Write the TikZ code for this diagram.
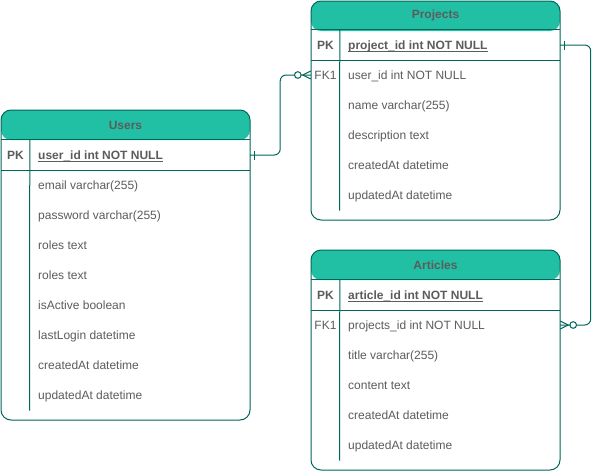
\documentclass[tikz,border=0pt]{standalone}
\usepackage{fontspec}
\setmainfont{Liberation Sans}
\usetikzlibrary{calc}
\definecolor{erstroke}{HTML}{006658}
\definecolor{erfill}{HTML}{21C0A5}
\definecolor{ertext}{HTML}{5C5C5C}
\begin{document}
\begin{tikzpicture}[x=1pt,y=-1pt,
  erline/.style={draw=erstroke, line width=1pt},
  tablebox/.style={draw=erstroke, line width=1pt, rounded corners=10pt, fill=white,
    minimum width=249pt, inner sep=0pt,
    path picture={\fill[erfill] (path picture bounding box.north west) rectangle ([yshift=-30pt]path picture bounding box.north east);}},
  title/.style={inner sep=0pt, font=\bfseries\fontsize{12}{14}\selectfont, text=ertext},
  field/.style={anchor=west, inner sep=0pt, font=\fontsize{12}{14}\selectfont, text=ertext, text height=8.6pt, text depth=0pt},
  keyf/.style={field, font=\bfseries\fontsize{12}{14}\selectfont},
  keylabel/.style={keyf, anchor=center},
  fklabel/.style={field, anchor=center},
  rowbox/.style={minimum width=249pt, minimum height=30pt, inner sep=0pt},
  uline/.style={draw=ertext, line width=0.9pt},
  circ/.style={draw=erstroke, line width=1pt, fill=white}
]
\useasboundingbox (0,0) rectangle (600,471);

% ---------------- Users ----------------
\node[tablebox, minimum height=310pt] (users) at (125.5,265) {};
\node[title] (users-title) at (125.5,125) {Users};
\node[rowbox] (users-pk) at (125.5,155) {};
\draw[erline] (users-pk.north west) -- (users-pk.north east);
\draw[erline] (users-pk.south west) -- (users-pk.south east);
\draw[erline] ($(users-pk.north west)+(29,0)$) -- ($(users.south west)+(29,-10)$);
\node[keylabel] (users-pklabel) at (15.5,155) {PK};
\node[keyf] (users-pkname) at (38,155) {user\_id int NOT NULL};
\draw[uline] ([yshift=-1.5pt]users-pkname.south west) -- ([yshift=-1.5pt]users-pkname.south east);
\foreach \t [count=\i] in {email varchar(255), password varchar(255), roles text, roles text,
  isActive boolean, lastLogin datetime, createdAt datetime, updatedAt datetime}
  \node[field] (users-f\i) at (38,155+30*\i) {\t};

% ---------------- Projects ----------------
\node[tablebox, minimum height=219pt] (projects) at (435.5,110.5) {};
\node[title] (projects-title) at (435.5,15.5) {Projects};
\node[rowbox] (projects-pk) at (435.5,45) {};
\node[rowbox] (projects-fk) at (435.5,75) {};
\draw[erline] (projects-pk.north west) -- (projects-pk.north east);
\draw[erline] (projects-pk.south west) -- (projects-pk.south east);
\draw[erline] ($(projects-pk.north west)+(29,0)$) -- ($(projects.south west)+(29,-10)$);
\node[keylabel] (projects-pklabel) at (325.5,45) {PK};
\node[keyf] (projects-pkname) at (348,45) {project\_id int NOT NULL};
\draw[uline] ([yshift=-1.5pt]projects-pkname.south west) -- ([yshift=-1.5pt]projects-pkname.south east);
\node[fklabel] (projects-fklabel) at (325.5,75) {FK1};
\node[field] (projects-fkname) at (348,75) {user\_id int NOT NULL};
\foreach \t [count=\i] in {name varchar(255), description text, createdAt datetime, updatedAt datetime}
  \node[field] (projects-f\i) at (348,75+30*\i) {\t};

% ---------------- Articles ----------------
\node[tablebox, minimum height=220pt] (articles) at (435.5,360) {};
\node[title] (articles-title) at (435.5,265) {Articles};
\node[rowbox] (articles-pk) at (435.5,295) {};
\node[rowbox] (articles-fk) at (435.5,325) {};
\draw[erline] (articles-pk.north west) -- (articles-pk.north east);
\draw[erline] (articles-pk.south west) -- (articles-pk.south east);
\draw[erline] ($(articles-pk.north west)+(29,0)$) -- ($(articles.south west)+(29,-10)$);
\node[keylabel] (articles-pklabel) at (325.5,295) {PK};
\node[keyf] (articles-pkname) at (348,295) {article\_id int NOT NULL};
\draw[uline] ([yshift=-1.5pt]articles-pkname.south west) -- ([yshift=-1.5pt]articles-pkname.south east);
\node[fklabel] (articles-fklabel) at (325.5,325) {FK1};
\node[field] (articles-fkname) at (348,325) {projects\_id int NOT NULL};
\foreach \t [count=\i] in {title varchar(255), content text, createdAt datetime, updatedAt datetime}
  \node[field] (articles-f\i) at (348,325+30*\i) {\t};

% ---------------- Connector: Users -> Projects ----------------
\draw[erline, rounded corners=6pt] (users-pk.east) -- ++(30,0) |- (projects-fk.west);
\draw[erline] ([xshift=4.5pt]users-pk.east) ++(0,-4.5) -- ++(0,9);
\draw[erline] ([yshift=4pt]projects-fk.west) -- ([xshift=-8pt]projects-fk.west) -- ([yshift=-4pt]projects-fk.west);
\node[circ, circle, minimum size=6.6pt, inner sep=0pt] (c1) at ([xshift=-13pt]projects-fk.west) {};

% ---------------- Connector: Projects -> Articles ----------------
\draw[erline, rounded corners=6pt] (projects-pk.east) -- ++(30.5,0) |- (articles-fk.east);
\draw[erline] ([xshift=4.5pt]projects-pk.east) ++(0,-4.5) -- ++(0,9);
\draw[erline] ([yshift=4pt]articles-fk.east) -- ([xshift=8pt]articles-fk.east) -- ([yshift=-4pt]articles-fk.east);
\node[circ, circle, minimum size=6.6pt, inner sep=0pt] (c2) at ([xshift=13pt]articles-fk.east) {};
\end{tikzpicture}
\end{document}
